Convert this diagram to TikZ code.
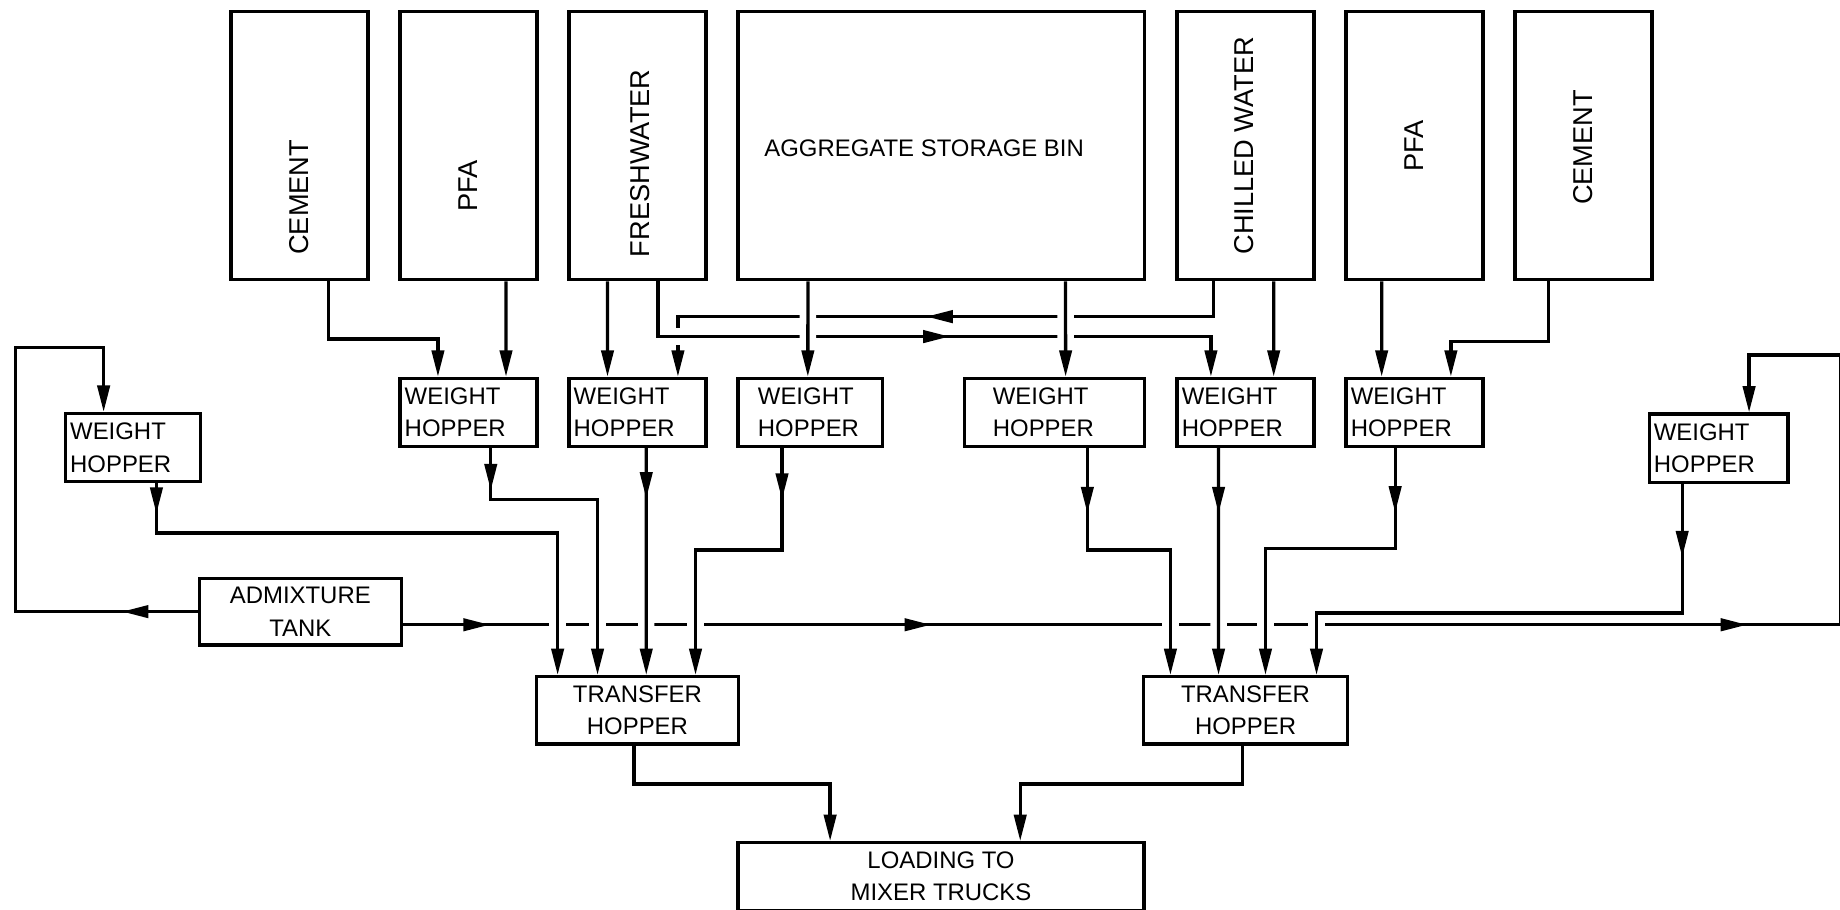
\documentclass[tikz,border=0pt]{standalone}
\usepackage{fontspec}
\setmainfont{Liberation Sans}
\usetikzlibrary{arrows.meta, decorations.markings, backgrounds}

\newcommand{\binfont}{\fontsize{13.2pt}{15pt}\selectfont}
\newcommand{\hopperfont}{\fontsize{11.6pt}{15.8pt}\selectfont}

\tikzset{
    flowTip/.tip={Triangle[length=4.5mm, width=2.1mm]},
    flow/.style={line width=1.6pt, -{flowTip}},
    midArrow/.style={postaction={decorate, decoration={markings, mark=at position #1 with {\arrow{flowTip}}}}},
    crossLine/.style={preaction={draw=white, line width=2.8mm, arrows=-}},
    binNode/.style={draw, line width=1.6pt, anchor=north west, inner sep=0pt, minimum width=23.32mm, minimum height=45.7mm},
    hopperNode/.style={draw, line width=1.6pt, anchor=north west, inner xsep=0.8mm, inner ysep=0pt, minimum height=11.6mm, text width=21.72mm, align=left, font=\hopperfont},
    boxNode/.style={draw, line width=1.6pt, anchor=north west, inner sep=0pt, minimum height=11.5mm, align=center, font=\hopperfont},
    binLabel/.style={rotate=90, inner sep=0pt, font=\binfont}
}

\begin{document}
\begin{tikzpicture}[x=0.2mm, y=-0.2mm]
    \useasboundingbox (0,0) rectangle (1568,775);

    % Storage bins
    \node[binNode] (cemL) at (195.5,8.5) {};
    \node[binNode] (pfaL) at (339.5,8.5) {};
    \node[binNode] (fresh) at (483.5,8.5) {};
    \node[binNode, minimum width=69.24mm] (aggr) at (627.5,8.5) {};
    \node[binNode] (chill) at (1001.7,8.5) {};
    \node[binNode] (pfaR) at (1145.7,8.5) {};
    \node[binNode] (cemR) at (1289.7,8.5) {};

    % Bin labels
    \node[binLabel] (cemLText) at ([yshift=-8.8mm]cemL.center) {CEMENT};
    \node[binLabel] (pfaLText) at ([yshift=-6.9mm]pfaL.center) {PFA};
    \node[binLabel] (freshText) at ([xshift=0.5mm, yshift=-3mm]fresh.center) {FRESHWATER};
    \node[font=\hopperfont, inner sep=0pt] (aggrText) at ([xshift=-2.9mm, yshift=-0.45mm]aggr.center) {AGGREGATE STORAGE BIN};
    \node[binLabel] (chillText) at ([xshift=-0.25mm]chill.center) {CHILLED WATER};
    \node[binLabel] (pfaRText) at (pfaR.center) {PFA};
    \node[binLabel] (cemRText) at ([yshift=-0.3mm]cemR.center) {CEMENT};

    % Weight hoppers
    \node[hopperNode, text width=21.4mm] (whL) at (54.4,351) {WEIGHT\\HOPPER};
    \node[hopperNode] (wh1) at (339.5,321) {WEIGHT\\HOPPER};
    \node[hopperNode] (wh2) at (483.5,321) {WEIGHT\\HOPPER};
    \node[hopperNode, inner xsep=3.4mm, text width=17.8mm] (wh3) at (627.5,321) {WEIGHT\\HOPPER};
    \node[hopperNode, inner xsep=4.8mm, text width=21mm] (wh4) at (820.7,321) {WEIGHT\\HOPPER};
    \node[hopperNode] (wh5) at (1001.7,321) {WEIGHT\\HOPPER};
    \node[hopperNode] (wh6) at (1145.7,321) {WEIGHT\\HOPPER};
    \node[hopperNode, text width=22.04mm] (whR) at (1404,351.5) {WEIGHT\\HOPPER};

    % Tank, transfer hoppers, loading
    \node[boxNode, minimum width=34.4mm, minimum height=11.36mm] (tank) at (168.5,491.4) {ADMIXTURE\\TANK};
    \node[boxNode, minimum width=34.52mm] (thL) at (455.5,575.2) {TRANSFER\\HOPPER};
    \node[boxNode, minimum width=34.72mm] (thR) at (973.2,575.2) {TRANSFER\\HOPPER};
    \node[boxNode, minimum width=69.2mm] (load) at (627.5,716.7) {LOADING TO\\MIXER TRUCKS};

    \begin{scope}[on background layer]
        % Bins to weight hoppers
        \draw[flow] ([xshift=5mm]cemL.south) -- ++(0,49) -| ([xshift=-5.2mm]wh1.north);
        \draw[flow] ([xshift=6.4mm]pfaL.south) -- ([xshift=6.4mm]wh1.north);
        \draw[flow] ([xshift=-5.1mm]fresh.south) -- ([xshift=-5.1mm]wh2.north);
        \draw[flow, midArrow=54.9mm] ([xshift=-5.5mm]chill.south) -- ++(0,30) -| ([xshift=6.9mm]wh2.north);
        \draw[flow, crossLine, midArrow=59.1mm] ([xshift=3.5mm]fresh.south) -- ++(0,47) -| ([xshift=-5.9mm]wh5.north);
        \draw[flow, crossLine] ([xshift=-22.7mm]aggr.south) -- ([xshift=-0.4mm]wh3.north);
        \draw[flow, crossLine] ([xshift=21.2mm]aggr.south) -- ([xshift=1.9mm]wh4.north);
        \draw[flow] ([xshift=4.8mm]chill.south) -- ([xshift=4.8mm]wh5.north);
        \draw[flow] ([xshift=-5.6mm]pfaR.south) -- ([xshift=-5.6mm]wh6.north);
        \draw[flow] ([xshift=-6mm]cemR.south) -- ++(0,51) -| ([xshift=6.2mm]wh6.north);

        % Admixture lines
        \draw[flow, midArrow=12.9mm] (tank.west) -- ++(-155,0) -- ++(0,-225) -| ([xshift=-5mm]whL.north);
        \draw[flow, midArrow=14.8mm, midArrow=90mm, midArrow=229.1mm] ([yshift=-2.24mm]tank.east) -- ++(1225.5,0) -- ++(0,-230) -| ([xshift=5.2mm]whR.north);

        % Weight hoppers to transfer hoppers
        \draw[flow, crossLine, midArrow=5.2mm] ([xshift=4mm]whL.south) -- ++(0,42.5) -| ([xshift=-13.6mm]thL.north);
        \draw[flow, crossLine, midArrow=7.2mm] ([xshift=3.8mm]wh1.south) -- ++(0,44) -| ([xshift=-6.8mm]thL.north);
        \draw[flow, crossLine, midArrow=8.6mm] ([xshift=1.5mm]wh2.south) -- ([xshift=1.5mm]thL.north);
        \draw[flow, crossLine, midArrow=8.8mm] ([xshift=-4.8mm]wh3.south) -- ++(0,87) -| ([xshift=9.9mm]thL.north);
        \draw[flow, crossLine, midArrow=11.1mm] ([xshift=5.6mm]wh4.south) -- ++(0,87) -| ([xshift=-12.8mm]thR.north);
        \draw[flow, crossLine, midArrow=11.1mm] ([xshift=-4.6mm]wh5.south) -- ([xshift=-4.6mm]thR.north);
        \draw[flow, crossLine, midArrow=11mm] ([xshift=-3.3mm]wh6.south) -- ++(0,85.5) -| ([xshift=3.4mm]thR.north);
        \draw[flow, crossLine, midArrow=12.5mm] ([xshift=-6.2mm]whR.south) -- ++(0,110) -| ([xshift=12.1mm]thR.north);

        % Transfer hoppers to loading
        \draw[flow] ([xshift=-0.6mm]thL.south) -- ++(0,32.6) -| ([xshift=-18.9mm]load.north);
        \draw[flow] ([xshift=-0.5mm]thR.south) -- ++(0,32.6) -| ([xshift=13.5mm]load.north);
    \end{scope}
\end{tikzpicture}
\end{document}
